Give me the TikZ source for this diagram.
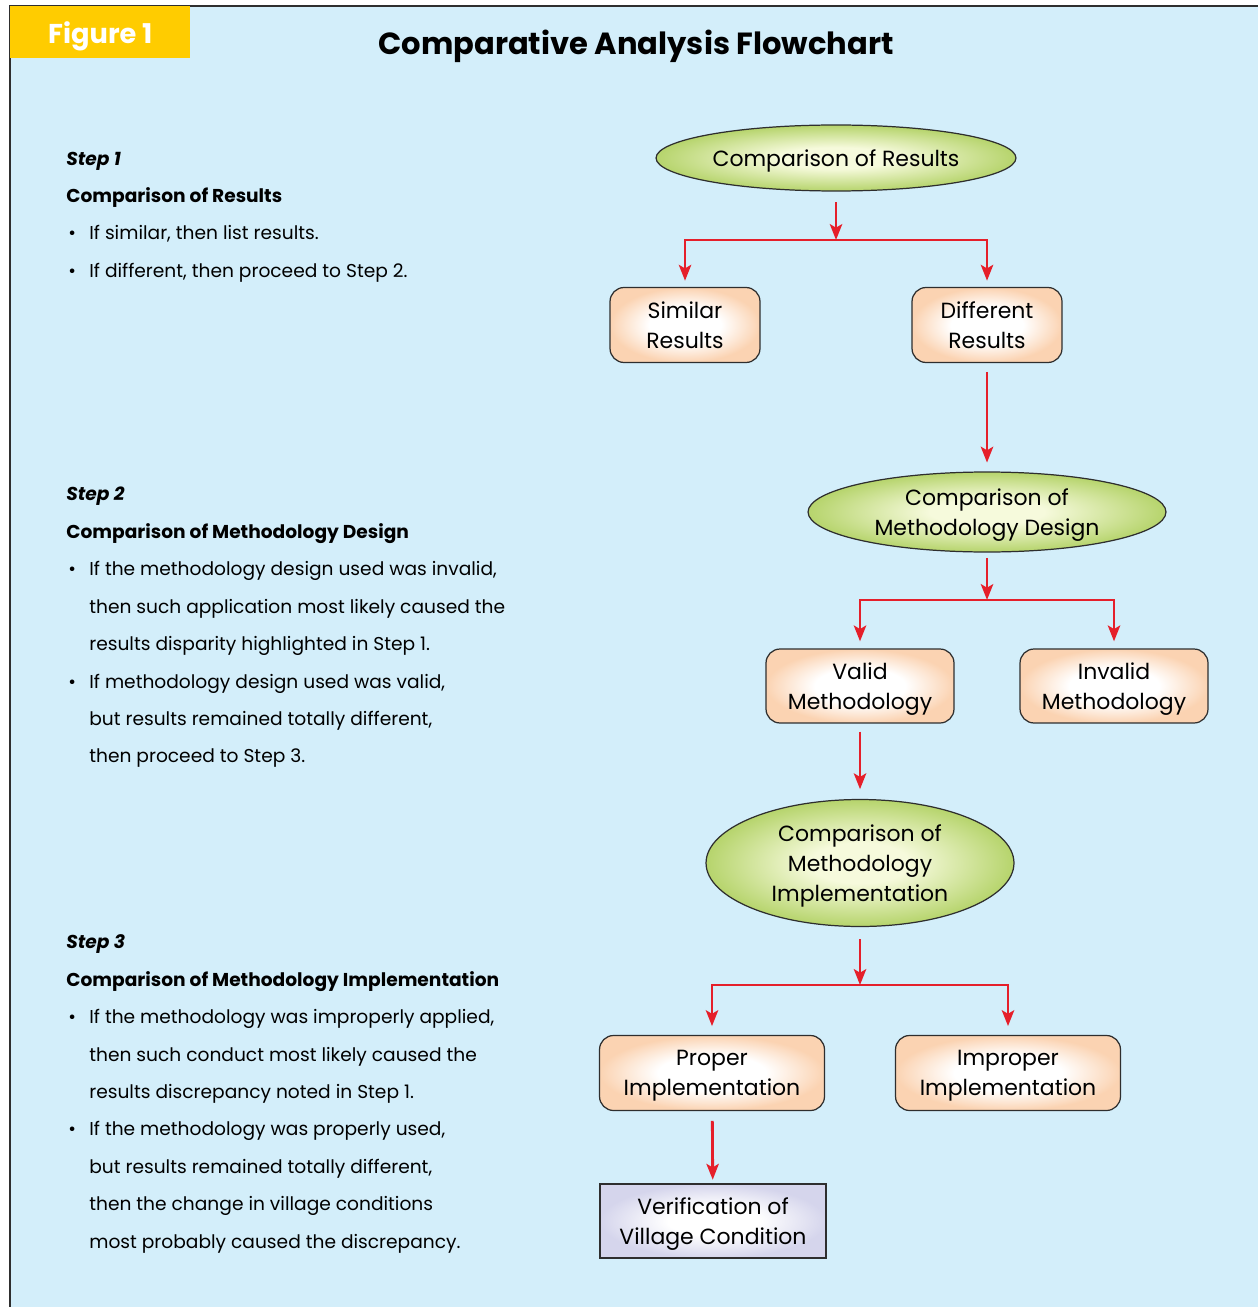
\documentclass[tikz,border=0pt]{standalone}
\usepackage{fontspec}
\setmainfont{Poppins}
\usetikzlibrary{shapes.geometric,arrows.meta}

\definecolor{bgblue}{HTML}{D3EEFA}
\definecolor{figyellow}{HTML}{FFCC00}
\definecolor{arrowred}{HTML}{E51F2A}
\definecolor{edgegray}{HTML}{2E2E2E}
\definecolor{ovalout}{HTML}{B6D46C}
\definecolor{ovalin}{HTML}{F6FADC}
\definecolor{peach}{HTML}{FBD3B2}
\definecolor{lavender}{HTML}{D5D5EC}

\pgfdeclareradialshading{ovalglow}{\pgfpointorigin}{color(0bp)=(ovalin); color(8bp)=(ovalin); color(25bp)=(ovalout); color(50bp)=(ovalout)}
\pgfdeclareradialshading{peachglow}{\pgfpointorigin}{color(0bp)=(white); color(12bp)=(white); color(25bp)=(peach); color(50bp)=(peach)}
\pgfdeclareradialshading{lavglow}{\pgfpointorigin}{color(0bp)=(white); color(10bp)=(white); color(25bp)=(lavender); color(50bp)=(lavender)}

\newcommand\nodefont{\fontsize{12.5}{17}\selectfont}
\newcommand\stepfont{\fontsize{10.6}{21.3}\selectfont}
\newcommand\bul{\hspace*{0.04cm}\makebox[0.42cm][l]{\textbullet}}
\newcommand\ind{\hspace*{0.46cm}}

\tikzset{
  oval/.style={ellipse, draw=edgegray, line width=0.7pt, shading=ovalglow,
    inner sep=0pt, text depth=0pt, align=center, font=\nodefont},
  resultbox/.style={rectangle, rounded corners=8pt, draw=edgegray, line width=0.7pt,
    shading=peachglow, inner sep=0pt, text depth=0pt, align=center, font=\nodefont},
  checkbox/.style={rectangle, draw=edgegray, line width=0.9pt,
    shading=lavglow, inner sep=0pt, text depth=0pt, align=center, font=\nodefont},
  flow/.style={draw=arrowred, line width=1.6pt,
    -{Stealth[length=9pt,width=7pt,inset=2pt]}},
  steptext/.style={anchor=north west, inner sep=0pt, align=left, font=\stepfont},
}

\begin{document}
\begin{tikzpicture}[x=0.02cm, y=-0.02cm]
    \useasboundingbox (0,0) rectangle (1258,1307);
    % background and frame
    \fill[bgblue] (10,6) rectangle (1258,1307);
    \draw[edgegray, line width=1.1pt] (10,1307) -- (10,6) -- (1258,6);
    \node[fill=figyellow, anchor=north west, minimum width=3.6cm, minimum height=1.04cm,
      text=white, text depth=0pt, font=\fontsize{15.5}{17}\selectfont\bfseries] (fig) at (10,6) {Figure 1};
    \node[text depth=0pt, font=\fontsize{17.4}{22}\selectfont\bfseries] (title) at (636,42) {Comparative Analysis Flowchart};

    % left column
    \node[steptext] (st1) at (66,151.5) {\textbf{\textit{Step 1}}\\
      \textbf{Comparison of Results}\\
      \bul If similar, then list results.\\
      \bul If different, then proceed to Step 2.};
    \node[steptext] (st2) at (66,487) {\textbf{\textit{Step 2}}\\
      \textbf{Comparison of Methodology Design}\\
      \bul If the methodology design used was invalid,\\
      \ind then such application most likely caused the\\
      \ind results disparity highlighted in Step 1.\\
      \bul If methodology design used was valid,\\
      \ind but results remained totally different,\\
      \ind then proceed to Step 3.};
    \node[steptext] (st3) at (66,934.5) {\textbf{\textit{Step 3}}\\
      \textbf{Comparison of Methodology Implementation}\\
      \bul If the methodology was improperly applied,\\
      \ind then such conduct most likely caused the\\
      \ind results discrepancy noted in Step 1.\\
      \bul If the methodology was properly used,\\
      \ind but results remained totally different,\\
      \ind then the change in village conditions\\
      \ind most probably caused the discrepancy.};

    % flowchart
    \node[oval, minimum width=7.2cm, minimum height=1.32cm] (res) at (836,158) {Comparison of Results};
    \node[resultbox, minimum width=3cm, minimum height=1.5cm] (sim) at (685,325) {Similar\\Results};
    \node[resultbox, minimum width=3cm, minimum height=1.5cm] (dif) at (987,325) {Different\\Results};
    \node[oval, minimum width=7.16cm, minimum height=1.6cm] (des) at (987,512) {Comparison of\\Methodology Design};
    \node[resultbox, minimum width=3.76cm, minimum height=1.48cm] (val) at (860,686) {Valid\\Methodology};
    \node[resultbox, minimum width=3.76cm, minimum height=1.48cm] (inv) at (1114,686) {Invalid\\Methodology};
    \node[oval, minimum width=6.16cm, minimum height=2.54cm] (imp) at (860,863) {Comparison of\\Methodology\\Implementation};
    \node[resultbox, minimum width=4.5cm, minimum height=1.5cm] (pro) at (712,1073) {Proper\\Implementation};
    \node[resultbox, minimum width=4.5cm, minimum height=1.5cm] (nop) at (1008,1073) {Improper\\Implementation};
    \node[checkbox, minimum width=4.52cm, minimum height=1.48cm] (ver) at (713,1221) {Verification of\\Village Condition};

    \coordinate (j1) at (836,240);
    \coordinate (j2) at (987,600);
    \coordinate (j3) at (860,985);

    \draw[flow, shorten <=6pt] (res) -- (j1);
    \draw[flow, shorten >=3.5pt] (j1) -| (sim);
    \draw[flow, shorten >=3.5pt] (j1) -| (dif);
    \draw[flow, shorten <=5pt, shorten >=5pt] (dif) -- (des);
    \draw[flow, shorten <=3pt] (des) -- (j2);
    \draw[flow, shorten >=4pt] (j2) -| (val);
    \draw[flow, shorten >=4pt] (j2) -| (inv);
    \draw[flow, shorten <=4.5pt, shorten >=5.5pt] (val) -- (imp);
    \draw[flow, shorten <=7pt] (imp) -- (j3);
    \draw[flow, shorten >=5pt] (j3) -| (pro);
    \draw[flow, shorten >=5pt] (j3) -| (nop);
    \draw[flow, shorten <=5.5pt, shorten >=2pt] (pro) -- (ver);
\end{tikzpicture}
\end{document}
